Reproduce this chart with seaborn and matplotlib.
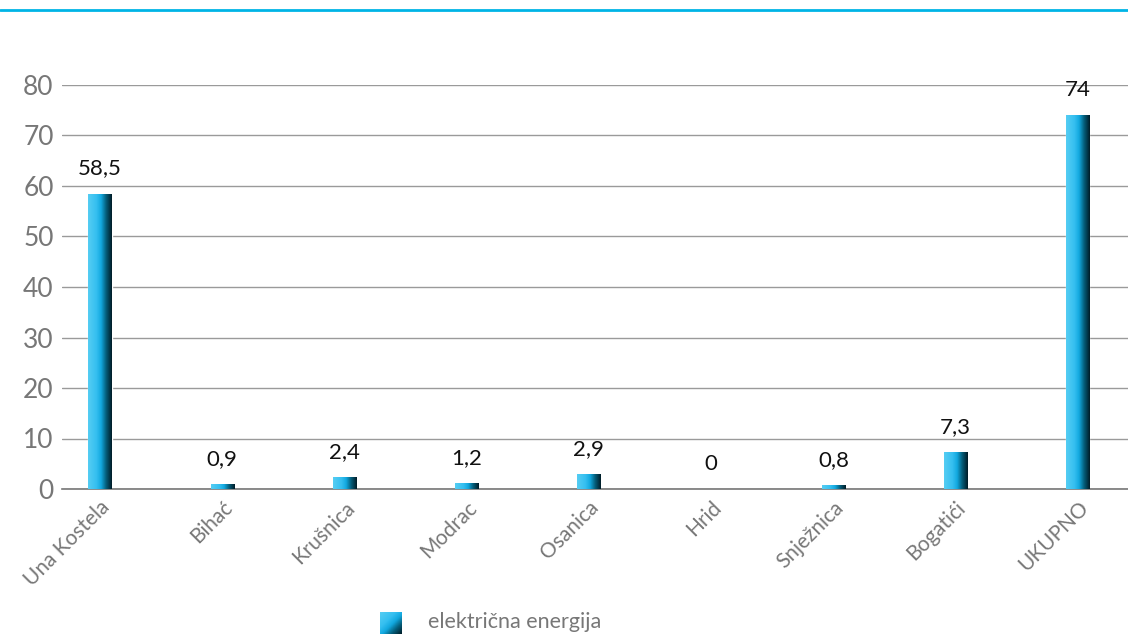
import numpy as np
import pandas as pd
import matplotlib
matplotlib.use("Agg")
import matplotlib.pyplot as plt
from matplotlib.colors import LinearSegmentedColormap
from matplotlib.lines import Line2D
import seaborn as sns

categories = ["Una Kostela", "Bihać", "Krušnica", "Modrac", "Osanica",
              "Hrid", "Snježnica", "Bogatići", "UKUPNO"]
values = [58.5, 0.9, 2.4, 1.2, 2.9, 0.0, 0.8, 7.3, 74.0]
series_name = "električna energija"
yticks = [0, 10, 20, 30, 40, 50, 60, 70, 80]

sns.set_theme(style="white")
plt.rcParams["font.family"] = ["Lato", "DejaVu Sans"]

fig = plt.figure(figsize=(11.28, 6.34), dpi=100)
ax = fig.add_axes([62/1128, 145/634, 1 - 62/1128, 404/634])

df = pd.DataFrame({"cat": categories, "val": values})
sns.barplot(data=df, x="cat", y="val", color="#1ab0e8", width=0.19, ax=ax,
            saturation=1)

cmap = LinearSegmentedColormap.from_list(
    "bar", [(0.0, "#55cdf3"), (0.35, "#35bff0"), (0.55, "#12a8df"),
            (0.75, "#05617f"), (1.0, "#001d28")])
grad = np.linspace(0, 1, 64).reshape(1, -1)
for p in list(ax.patches):
    x0, y0 = p.get_x(), p.get_y()
    w, h = p.get_width(), p.get_height()
    if h <= 0:
        continue
    im = ax.imshow(grad, cmap=cmap, aspect="auto",
                   extent=(x0, x0 + w, y0, y0 + h), zorder=3)
    im.set_clip_path(p)
    p.set_facecolor("none")

ax.set_xlim(-0.31, 8.41)
ax.set_ylim(0, 80)
ax.set_yticks(yticks)
ax.set_yticklabels([str(t) for t in yticks], fontsize=19, color="#777777")
ax.grid(axis="y", color="#9a9a9a", linewidth=1)
ax.set_axisbelow(True)
for s in ["left", "right", "top"]:
    ax.spines[s].set_visible(False)
ax.spines["bottom"].set_color("#777777")
ax.spines["bottom"].set_linewidth(1.2)
ax.tick_params(axis="both", length=0, pad=6)
ax.set_xlabel("")
ax.set_ylabel("")
ax.set_xticks(range(len(categories)))
ax.set_xticklabels(categories, rotation=45, ha="right",
                   rotation_mode="anchor", fontsize=15, color="#777777")

for i, v in enumerate(values):
    lbl = f"{v:g}".replace(".", ",")
    ax.annotate(lbl, (i, v), xytext=(0, 11), textcoords="offset points",
                ha="center", va="bottom", fontsize=16, color="#111111")

# legend
lax = fig.add_axes([380/1128, 0, 22/1128, 22/634])
xx, yy = np.meshgrid(np.linspace(0, 1, 32), np.linspace(0, 1, 32))
lgrad = (xx + yy) / 2
lax.imshow(lgrad, cmap=cmap, aspect="auto")
lax.axis("off")
fig.text(428/1128, 12/634, series_name, fontsize=15.5,
         color="#777777", va="center", ha="left")

# header line
fig.add_artist(Line2D([0, 1], [1 - 10/634, 1 - 10/634], color="#00b4e6",
                      linewidth=2, transform=fig.transFigure))

fig.savefig("out.png", dpi=100)
